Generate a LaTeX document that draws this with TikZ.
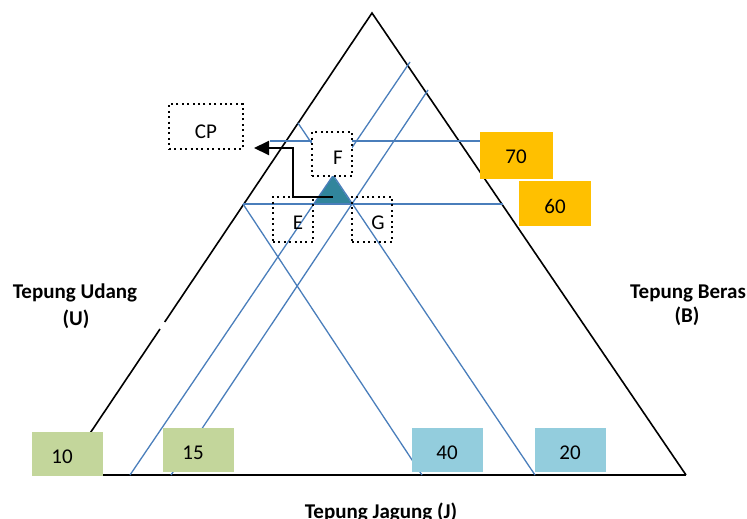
\documentclass[tikz,border=0pt]{standalone}
\usepackage{fontspec}
\setmainfont{Carlito}
\usetikzlibrary{arrows.meta}
\definecolor{lineblue}{HTML}{4A7EBB}
\definecolor{boxorange}{HTML}{FFC000}
\definecolor{boxgreen}{HTML}{C3D69B}
\definecolor{boxcyan}{HTML}{93CDDD}
\definecolor{markteal}{HTML}{31859C}
\begin{document}
\begin{tikzpicture}[x=1pt,y=-1pt,
  blueline/.style={draw=lineblue, line width=1.3pt},
  edgeline/.style={draw=black, line width=1.6pt},
  dotbox/.style={draw=black, line width=2pt, dash pattern=on 2pt off 3.4pt, inner sep=0pt},
  colbox/.style={inner sep=0pt, minimum width=71pt, minimum height=44pt},
  txt/.style={anchor=base, inner sep=0pt, font=\fontsize{21}{25}\selectfont},
  btxt/.style={anchor=base, inner sep=0pt, font=\fontsize{21}{25}\selectfont\bfseries}]
\useasboundingbox (0,0) rectangle (747,519);
% triangle
\coordinate (top) at (372,13);
\coordinate (bl) at (62,475);
\coordinate (br) at (686,475);
\coordinate (gapA) at (164.7,322);
\coordinate (gapB) at (160.0,329);
\draw[edgeline, line join=miter] (gapA) -- (top) -- (br);
\draw[edgeline] (gapB) -- (bl);
\draw[draw=black, line width=2.3pt] (bl) -- (br);
% marker
\coordinate (mkT) at (333,176);
\coordinate (mkL) at (314,204);
\coordinate (mkR) at (352,204);
\fill[markteal] (mkT) -- (mkL) -- (mkR) -- cycle;
% blue lines
\coordinate (a1) at (130,475); \coordinate (a2) at (410,62);
\coordinate (b1) at (171,475); \coordinate (b2) at (428,90);
\coordinate (c1) at (243,204); \coordinate (c2) at (422,475);
\coordinate (d1) at (298,123); \coordinate (d2) at (535,475);
\coordinate (h1a) at (270,141); \coordinate (h1b) at (490,141);
\coordinate (h2a) at (243,204); \coordinate (h2b) at (503,204);
\draw[blueline] (a1) -- (a2);
\draw[blueline] (b1) -- (b2);
\draw[blueline] (c1) -- (c2);
\draw[blueline] (d1) -- (d2);
\draw[blueline] (h1a) -- (h1b);
\draw[blueline] (h2a) -- (h2b);
% dotted boxes
\node[dotbox, minimum width=74pt, minimum height=45pt] (cp) at (206,126.5) {};
\node[txt] (cpt) at (206,138) {CP};
\node[dotbox, fill=white, minimum width=40pt, minimum height=44pt] (f) at (332,154) {};
\node[txt] (ft) at (338,164) {F};
\node[dotbox, minimum width=40pt, minimum height=45pt] (e) at (293,219.5) {};
\node[txt] (et) at (298,229) {E};
\node[dotbox, minimum width=40pt, minimum height=45pt] (g) at (372,219.5) {};
\node[txt] (gt) at (378,229) {G};
% arrow
\coordinate (arS) at (333,197);
\coordinate (arM1) at (293,197);
\coordinate (arM2) at (293,148);
\coordinate (arT) at (254,148);
\draw[line width=2pt, line join=miter, -{Triangle[length=15pt,width=14pt]}] (arS) -- (arM1) -- (arM2) -- (arT);
% coloured boxes
\node[colbox, fill=boxorange, minimum width=73pt, minimum height=47pt] (b70) at (516.5,155.5) {};
\node[txt] (t70) at (516,163.5) {70};
\node[colbox, fill=boxorange, minimum width=72pt, minimum height=45pt] (b60) at (555,203.5) {};
\node[txt] (t60) at (555,213) {60};
\node[colbox, fill=boxgreen, minimum height=44pt] (b10) at (67.5,454) {};
\node[txt] (t10) at (62,463) {10};
\node[colbox, fill=boxgreen] (b15) at (198,450) {};
\node[txt] (t15) at (193,459) {15};
\node[colbox, fill=boxcyan] (b40) at (447.5,450) {};
\node[txt] (t40) at (447,459) {40};
\node[colbox, fill=boxcyan] (b20) at (570.5,450) {};
\node[txt] (t20) at (570,459) {20};
% axis labels
\node[btxt] (lu1) at (75,298.5) {Tepung Udang};
\node[btxt] (lu2) at (76,325) {(U)};
\node[btxt] (lb1) at (688,298.5) {Tepung Beras};
\node[btxt] (lb2) at (687,322) {(B)};
\node[btxt] (lj) at (381,518.5) {Tepung Jagung (J)};
\end{tikzpicture}
\end{document}
